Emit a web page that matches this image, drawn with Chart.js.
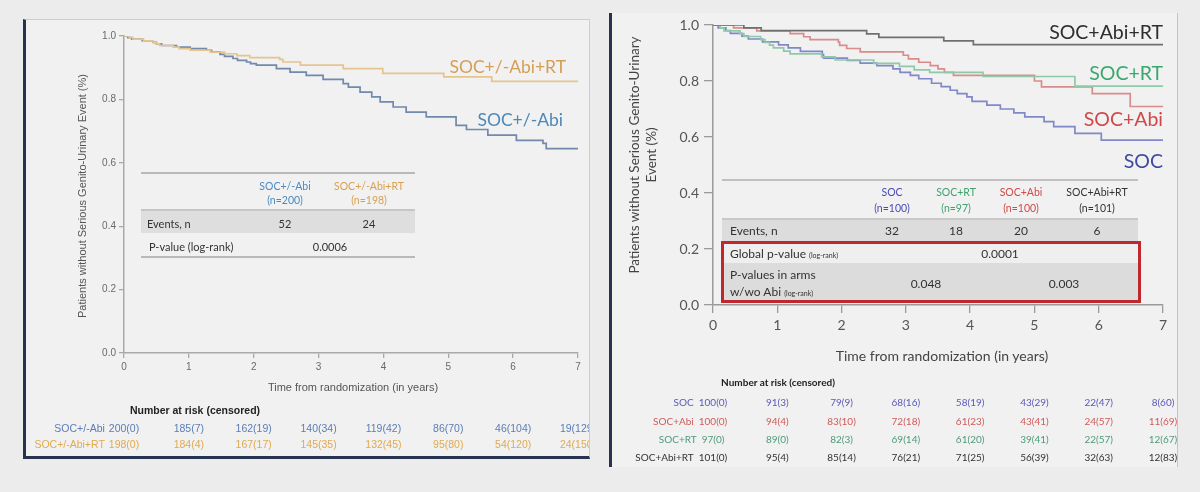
<!DOCTYPE html>
<html><head><meta charset="utf-8">
<script src="https://cdn.jsdelivr.net/npm/chart.js@4/dist/chart.umd.min.js"></script>
<style>
html,body{margin:0;padding:0}
body{width:1200px;height:492px;background:#ececec;position:relative;overflow:hidden}
.abs{position:absolute}
.t{position:absolute;white-space:nowrap;line-height:1.2}
</style></head><body>
<div class="abs" style="left:23px;top:19px;width:567px;height:440px;box-sizing:border-box;background:#f1f1f1;border-left:3px solid #27334f;border-bottom:3px solid #27334f;border-top:1px solid #cdcdcd;border-right:1px solid #cdcdcd"></div>
<div class="abs" style="left:609px;top:13px;width:569px;height:454px;box-sizing:border-box;background:#f1f1f1;border-left:3px solid #27334f;border-right:1px solid #c4c4c4"></div>
<canvas id="c1" class="abs" width="566" height="360" style="left:24px;top:19px"></canvas>
<canvas id="c2" class="abs" width="566" height="330" style="left:612px;top:5px"></canvas>
<div id="ov" class="abs" style="left:0;top:0;width:1200px;height:492px"></div>
<div id="clipL" class="abs" style="left:0;top:0;width:589px;height:492px;overflow:hidden"></div>
<div id="clipR" class="abs" style="left:0;top:0;width:1177px;height:492px;overflow:hidden"></div>
<script>
// ---------- DATA ----------
const yearTicks = [0, 1, 2, 3, 4, 5, 6, 7];
const yTicks = [0, 0.2, 0.4, 0.6, 0.8, 1.0];

// Left panel (pooled arms)
const abiPooledTimes = [0,0.06,0.12,0.28,0.45,0.5,0.58,0.81,1.02,1.27,1.35,1.48,1.55,1.68,1.75,1.89,1.95,2.04,2.35,2.56,2.81,3.07,3.38,3.46,3.64,3.82,3.95,4.15,4.35,4.66,5.12,5.28,5.61,6.05,6.46,6.51,7.0];
const abiPooledSurv  = [1,0.995,0.99,0.985,0.98,0.975,0.97,0.965,0.96,0.955,0.95,0.942,0.936,0.929,0.923,0.918,0.913,0.908,0.897,0.886,0.876,0.863,0.85,0.839,0.823,0.808,0.792,0.776,0.76,0.745,0.718,0.705,0.687,0.671,0.661,0.645,0.645];
const rtPooledTimes  = [0,0.08,0.14,0.3,0.45,0.5,0.55,0.76,0.85,1.02,1.33,1.55,1.74,1.94,2.40,2.45,2.72,3.38,3.99,4.93,5.67,7.0];
const rtPooledSurv   = [1,0.995,0.99,0.985,0.98,0.975,0.97,0.965,0.96,0.955,0.949,0.944,0.938,0.932,0.926,0.918,0.908,0.897,0.882,0.871,0.857,0.857];

// Right panel (four arms)
const socTimes = [0,0.08,0.2,0.27,0.45,0.55,0.77,1.02,1.17,1.36,1.70,1.72,2.09,2.29,2.55,2.8,2.91,3.07,3.2,3.4,3.55,3.69,3.8,3.95,4.03,4.26,4.47,4.68,4.85,5.15,5.3,5.63,6.04,7.0];
const socSurv  = [1,0.99,0.98,0.97,0.96,0.95,0.94,0.929,0.918,0.906,0.894,0.882,0.874,0.864,0.855,0.843,0.831,0.82,0.808,0.792,0.78,0.767,0.755,0.743,0.727,0.714,0.70,0.686,0.672,0.655,0.637,0.613,0.589,0.589];
const socRtTimes = [0,0.11,0.17,0.42,0.48,0.74,0.81,0.88,0.94,1.10,1.20,1.69,1.90,2.5,2.9,3.13,3.37,4.2,5.63,7.0];
const socRtSurv  = [1,0.99,0.979,0.969,0.959,0.948,0.938,0.928,0.918,0.907,0.897,0.886,0.875,0.863,0.852,0.84,0.831,0.816,0.782,0.782];
const socAbiTimes = [0,0.32,0.68,1.2,1.41,1.51,1.95,1.97,2.08,2.29,2.96,3.04,3.2,3.38,3.5,3.6,3.74,5.0,5.11,5.9,6.49,7.0];
const socAbiSurv  = [1,0.99,0.979,0.969,0.958,0.948,0.939,0.927,0.916,0.904,0.892,0.879,0.867,0.855,0.843,0.831,0.82,0.80,0.779,0.755,0.709,0.709];
const socAbiRtTimes = [0,0.48,0.75,2.39,2.58,3.59,4.05,7.0];
const socAbiRtSurv  = [1,0.99,0.98,0.968,0.956,0.943,0.93,0.93];

// Tables
const leftArms = ["SOC+/-Abi", "SOC+/-Abi+RT"];
const leftN = ["(n=200)", "(n=198)"];
const leftEvents = ["52", "24"];
const leftP = "0.0006";
const rightArms = ["SOC", "SOC+RT", "SOC+Abi", "SOC+Abi+RT"];
const rightN = ["(n=100)", "(n=97)", "(n=100)", "(n=101)"];
const rightEvents = ["32", "18", "20", "6"];
const rightGlobalP = "0.0001";
const rightArmP = ["0.048", "0.003"];

// Numbers at risk (censored)
const riskAbiPooled = ["200(0)","185(7)","162(19)","140(34)","119(42)","86(70)","46(104)","19(129)"];
const riskRtPooled  = ["198(0)","184(4)","167(17)","145(35)","132(45)","95(80)","54(120)","24(150)"];
const riskSOC       = ["100(0)","91(3)","79(9)","68(16)","58(19)","43(29)","22(47)","8(60)"];
const riskSOCAbi    = ["100(0)","94(4)","83(10)","72(18)","61(23)","43(41)","24(57)","11(69)"];
const riskSOCRT     = ["97(0)","89(0)","82(3)","69(14)","61(20)","39(41)","22(57)","12(67)"];
const riskSOCAbiRT  = ["101(0)","95(4)","85(14)","76(21)","71(25)","56(39)","32(63)","12(83)"];

// ---------- HELPERS ----------
const ov = document.getElementById('ov');
function T(parent, s, x, y, o) {
  const e = document.createElement('div');
  e.className = 't';
  if (o.html) e.innerHTML = s; else e.textContent = s;
  e.style.font = o.font;
  e.style.color = o.color || '#333';
  if (o.ta) e.style.textAlign = o.ta;
  if (o.lh) e.style.lineHeight = o.lh;
  const ax = o.align === 'left' ? '0' : o.align === 'right' ? '-100%' : '-50%';
  e.style.left = x + 'px'; e.style.top = y + 'px';
  e.style.transform = `translate(${ax},-50%)` + (o.rot ? ' rotate(-90deg)' : '');
  parent.appendChild(e);
  return e;
}
function box(x, y, w, h, css) {
  const e = document.createElement('div');
  e.className = 'abs';
  e.style.cssText += `left:${x}px;top:${y}px;width:${w}px;height:${h}px;box-sizing:border-box;` + css;
  ov.appendChild(e);
  return e;
}
function pts(ts, ss) { return ts.map((t, i) => ({ x: t, y: ss[i] })); }
function ds(label, ts, ss, color) {
  return { label, data: pts(ts, ss), borderColor: color, borderWidth: 1.7, stepped: 'before', pointRadius: 0, fill: false };
}
function scales(o) {
  return {
    x: {
      type: 'linear', min: 0, max: 7,
      afterBuildTicks: s => { s.ticks = yearTicks.map(v => ({ value: v })); },
      ticks: { color: o.tc, font: o.tf, padding: o.xpad, maxRotation: 0, autoSkip: false, callback: v => String(v) },
      grid: { drawOnChartArea: false, drawTicks: true, tickLength: o.xtl, color: o.ac, lineWidth: 1.3 },
      border: { color: o.ac, width: 1.5 },
      afterFit: s => { s.height = o.xh; }
    },
    y: {
      type: 'linear', min: 0, max: 1,
      afterBuildTicks: s => { s.ticks = yTicks.map(v => ({ value: v })); },
      ticks: { color: o.tc, font: o.tf, padding: o.ypad, callback: v => Number(v).toFixed(1) },
      grid: { drawOnChartArea: false, drawTicks: true, tickLength: o.ytl, color: o.ac, lineWidth: 1.3 },
      border: { color: o.ac, width: 1.5 },
      afterFit: s => { s.width = o.yw; }
    }
  };
}

// ---------- CHARTS ----------
const ch1 = new Chart(document.getElementById('c1'), {
  type: 'line',
  data: { datasets: [
    ds('SOC+/-Abi+RT', rtPooledTimes, rtPooledSurv, '#e6c48e'),
    ds('SOC+/-Abi', abiPooledTimes, abiPooledSurv, '#7189ab')
  ]},
  options: {
    responsive: false, animation: false, devicePixelRatio: 1,
    layout: { padding: { left: 0, top: 17, right: 12, bottom: 0 } },
    plugins: { legend: { display: false }, tooltip: { enabled: false } },
    scales: scales({ tc: '#6a6a6a', tf: { family: 'Liberation Sans, Arial, sans-serif', size: 10 }, ac: '#a9a9a9',
      xpad: 3, xtl: 5, xh: 26, ypad: 3, ytl: 5, yw: 100 })
  }
});
const ch2 = new Chart(document.getElementById('c2'), {
  type: 'line',
  data: { datasets: [
    ds('SOC+Abi+RT', socAbiRtTimes, socAbiRtSurv, '#707070'),
    ds('SOC+RT', socRtTimes, socRtSurv, '#8fcaa8'),
    ds('SOC+Abi', socAbiTimes, socAbiSurv, '#d98c8c'),
    ds('SOC', socTimes, socSurv, '#8088c8')
  ]},
  options: {
    responsive: false, animation: false, devicePixelRatio: 1,
    layout: { padding: { left: 0, top: 20, right: 15, bottom: 0 } },
    plugins: { legend: { display: false }, tooltip: { enabled: false } },
    scales: scales({ tc: '#555', tf: { family: 'Lato, sans-serif', size: 14 }, ac: '#9a9a9a',
      xpad: 4, xtl: 8, xh: 30, ypad: 5, ytl: 9, yw: 101 })
  }
});

// ---------- AXIS TITLES ----------
T(ov, 'Patients without Serious Genito-Urinary Event (%)', 82, 196, { font: '11px "Liberation Sans", Arial, sans-serif', color: '#555', rot: true });
T(ov, 'Time from randomization (in years)', 353, 387, { font: '11px "Liberation Sans", Arial, sans-serif', color: '#555' });
T(ov, 'Patients without Serious Genito-Urinary<br>Event (%)', 643, 155, { html: true, font: '13.5px Lato, sans-serif', color: '#444', rot: true, ta: 'center', lh: '17px' });
T(ov, 'Time from randomization (in years)', 942, 355, { font: '14px Lato, sans-serif', color: '#444' });

// ---------- CURVE LABELS ----------
T(ov, 'SOC+/-Abi+RT', 566, 66, { font: '17.5px Lato, sans-serif', color: '#d59e55', align: 'right' });
T(ov, 'SOC+/-Abi', 563, 119, { font: '17.5px Lato, sans-serif', color: '#4d88b8', align: 'right' });
T(ov, 'SOC+Abi+RT', 1163, 31, { font: '19.5px Lato, sans-serif', color: '#2e2e2e', align: 'right' });
T(ov, 'SOC+RT', 1163, 72, { font: '19.5px Lato, sans-serif', color: '#3aa86c', align: 'right' });
T(ov, 'SOC+Abi', 1163, 118, { font: '19.5px Lato, sans-serif', color: '#d04848', align: 'right' });
T(ov, 'SOC', 1163, 160, { font: '19.5px Lato, sans-serif', color: '#3d49a2', align: 'right' });

// ---------- LEFT INSET TABLE ----------
box(141, 172, 274, 2, 'background:#b9b9b9');
box(141, 209, 274, 24, 'background:#dedede;border-top:2px solid #c6c6c6');
box(141, 256, 274, 2, 'background:#b9b9b9');
const lf = '10.5px Lato, sans-serif';
const lfl = '11px Lato, sans-serif';
const leftCols = [285, 369];
const leftColColors = ['#4a8ac2', '#d9a050'];
leftArms.forEach((a, i) => {
  T(ov, a, leftCols[i], 186, { font: lf, color: leftColColors[i] });
  T(ov, leftN[i], leftCols[i], 200, { font: lf, color: leftColColors[i] });
  T(ov, leftEvents[i], leftCols[i], 223, { font: lfl, color: '#333' });
});
T(ov, 'Events, n', 147, 223, { font: lfl, color: '#333', align: 'left' });
T(ov, 'P-value (log-rank)', 149, 246, { font: lfl, color: '#333', align: 'left' });
T(ov, leftP, 330, 246, { font: lfl, color: '#333' });

// ---------- RIGHT INSET TABLE ----------
box(722, 179, 416, 2, 'background:#c0c0c0');
box(722, 218, 416, 23, 'background:#dcdcdc;border-top:2px solid #c8c8c8');
box(721, 241, 420, 62, 'background:#efefef;border:3px solid #c0282e');
box(724, 263, 414, 37, 'background:#dcdcdc');
const rf = '10.5px Lato, sans-serif';
const rfl = '12px Lato, sans-serif';
const rightCols = [892, 956, 1021, 1097];
const rightColColors = ['#4a4ab4', '#45a070', '#cf4a4a', '#333'];
rightArms.forEach((a, i) => {
  T(ov, a, rightCols[i], 192, { font: rf, color: rightColColors[i] });
  T(ov, rightN[i], rightCols[i], 208, { font: rf, color: rightColColors[i] });
  T(ov, rightEvents[i], rightCols[i], 230, { font: rfl, color: '#333' });
});
T(ov, 'Events, n', 730, 230, { font: rfl, color: '#333', align: 'left' });
T(ov, 'Global p-value <span style="font-size:7px">(log-rank)</span>', 730, 253, { html: true, font: rfl, color: '#333', align: 'left' });
T(ov, rightGlobalP, 1000, 253, { font: rfl, color: '#333' });
T(ov, 'P-values in arms', 730, 274, { font: rfl, color: '#333', align: 'left' });
T(ov, 'w/wo Abi <span style="font-size:7px">(log-rank)</span>', 730, 291, { html: true, font: rfl, color: '#333', align: 'left' });
T(ov, rightArmP[0], 926, 283, { font: rfl, color: '#333' });
T(ov, rightArmP[1], 1064, 283, { font: rfl, color: '#333' });

// ---------- NUMBER AT RISK ----------
function riskRow(parent, chart, canvasLeft, label, vals, y, font, color, gap) {
  const xs = yearTicks.map(t => chart.scales.x.getPixelForValue(t) + canvasLeft);
  let first = null;
  vals.forEach((v, i) => { const e = T(parent, v, xs[i], y, { font, color }); if (i === 0) first = e; });
  const w = first.getBoundingClientRect().width;
  T(parent, label, xs[0] - w / 2 - gap, y, { font, color, align: 'right' });
}
const clipL = document.getElementById('clipL');
const clipR = document.getElementById('clipR');
T(ov, 'Number at risk (censored)', 195, 410, { font: 'bold 10.5px "Liberation Sans", Arial, sans-serif', color: '#222' });
const lrf = '10.5px "Liberation Sans", Arial, sans-serif';
riskRow(clipL, ch1, 24, 'SOC+/-Abi', riskAbiPooled, 427.5, lrf, '#5b7db5', 4);
riskRow(clipL, ch1, 24, 'SOC+/-Abi+RT', riskRtPooled, 444, lrf, '#e2a94f', 4);

T(ov, 'Number at risk (censored)', 778, 382, { font: 'bold 10px Lato, sans-serif', color: '#222' });
const rrf = '10px Lato, sans-serif';
riskRow(clipR, ch2, 612, 'SOC', riskSOC, 402, rrf, '#5a5ab8', 5);
riskRow(clipR, ch2, 612, 'SOC+Abi', riskSOCAbi, 420.5, rrf, '#d05a5a', 5);
riskRow(clipR, ch2, 612, 'SOC+RT', riskSOCRT, 439, rrf, '#4e9a7a', 5);
riskRow(clipR, ch2, 612, 'SOC+Abi+RT', riskSOCAbiRT, 457, rrf, '#333', 5);
</script>
</body></html>
